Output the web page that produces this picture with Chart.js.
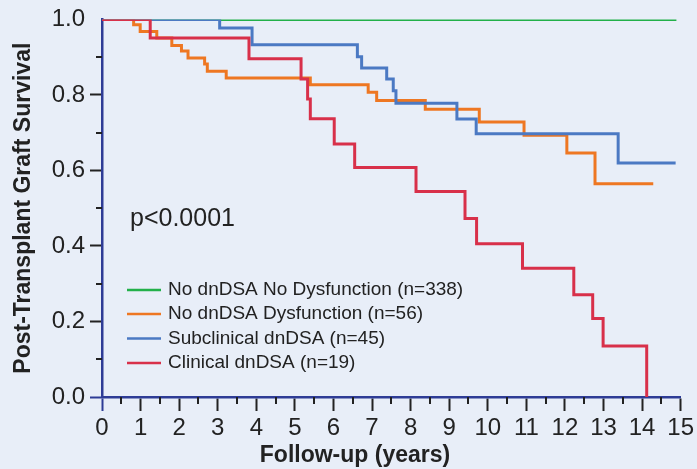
<!DOCTYPE html>
<html>
<head>
<meta charset="utf-8">
<script src="https://cdn.jsdelivr.net/npm/chart.js@4"></script>
<style>
  body { margin: 0; background: #e8eef8; }
  #wrap { width: 697px; height: 469px; }
</style>
</head>
<body>
<div id="wrap"><canvas id="kmChart" width="697" height="469"></canvas></div>
<script>
// Kaplan-Meier steps (time in years, survival after the drop)
const greenTimes = [0, 14.89];
const greenSurv = [1, 1];

const orangeTimes = [0, 0.82, 0.99, 1.42, 1.81, 2.06, 2.23, 2.66, 2.73, 3.22, 5.40, 6.90, 7.12, 8.38, 9.78, 10.94, 12.05, 12.78, 14.29];
const orangeSurv = [1, 0.986, 0.968, 0.951, 0.931, 0.916, 0.898, 0.882, 0.863, 0.845, 0.827, 0.807, 0.785, 0.762, 0.728, 0.693, 0.646, 0.565, 0.565];

const blueTimes = [0, 3.05, 3.89, 6.62, 6.73, 7.38, 7.55, 7.62, 9.20, 9.70, 13.38, 14.87];
const blueSurv = [1, 0.977, 0.933, 0.901, 0.871, 0.842, 0.811, 0.778, 0.736, 0.697, 0.620, 0.620];

const redTimes = [0, 1.25, 3.81, 5.16, 5.33, 5.40, 6.02, 6.55, 8.14, 9.41, 9.71, 10.90, 12.23, 12.72, 12.99, 14.12];
const redSurv = [1, 0.951, 0.896, 0.842, 0.789, 0.737, 0.670, 0.608, 0.544, 0.473, 0.406, 0.341, 0.271, 0.208, 0.135, 0];

const groupNames = [
  "No dnDSA No Dysfunction (n=338)",
  "No dnDSA Dysfunction (n=56)",
  "Subclinical dnDSA (n=45)",
  "Clinical dnDSA (n=19)",
];
const groupColors = ["#22b04a", "#ee7722", "#4b79c3", "#d8304a"];

const xTicks = [0, 15, 1];   // min, max, step
const yTicks = [0, 1, 0.2];
const pValueText = "p<0.0001";

const axisBlue = "#2e3c96";
const textColor = "#222222";
const fontFamily = "'Liberation Sans', Arial, Helvetica, sans-serif";

function toPoints(times, surv) {
  return times.map((t, i) => ({ x: t, y: surv[i] }));
}

// extra drawing: background, minor ticks, legend, p value, x title
const decorations = {
  id: "decorations",
  beforeDraw(chart) {
    const ctx = chart.ctx;
    ctx.save();
    ctx.fillStyle = "#e8eef8";
    ctx.fillRect(0, 0, chart.width, chart.height);
    ctx.restore();
  },
  afterDraw(chart) {
    const ctx = chart.ctx;
    const xs = chart.scales.x;
    const ys = chart.scales.y;
    const area = chart.chartArea;
    ctx.save();

    // minor ticks
    ctx.strokeStyle = textColor;
    ctx.lineWidth = 2;
    for (let v = 0.5; v < 15; v += 1) {
      const px = Math.round(xs.getPixelForValue(v));
      ctx.beginPath();
      ctx.moveTo(px, area.bottom);
      ctx.lineTo(px, area.bottom + 7);
      ctx.stroke();
    }
    for (let v = 0.1; v < 1; v += 0.2) {
      const py = Math.round(ys.getPixelForValue(v));
      ctx.beginPath();
      ctx.moveTo(area.left, py);
      ctx.lineTo(area.left - 6, py);
      ctx.stroke();
    }

    // legend
    ctx.font = "19px " + fontFamily;
    ctx.textBaseline = "middle";
    ctx.textAlign = "left";
    const legendY = [290, 314, 338.5, 363];
    groupNames.forEach((name, i) => {
      ctx.strokeStyle = groupColors[i];
      ctx.lineWidth = 2.5;
      ctx.beginPath();
      ctx.moveTo(127, legendY[i]);
      ctx.lineTo(161, legendY[i]);
      ctx.stroke();
      ctx.fillStyle = textColor;
      ctx.fillText(name, 168, legendY[i]);
    });

    // p value
    ctx.font = "25px " + fontFamily;
    ctx.textBaseline = "alphabetic";
    ctx.fillText(pValueText, 130, 226);

    // x axis title
    ctx.font = "bold 23px " + fontFamily;
    ctx.textAlign = "center";
    ctx.textBaseline = "middle";
    ctx.fillText("Follow-up (years)", 355, 456);

    ctx.restore();
  },
};

const ctx = document.getElementById("kmChart").getContext("2d");
new Chart(ctx, {
  type: "line",
  data: {
    datasets: [
      { label: groupNames[0], data: toPoints(greenTimes, greenSurv), borderColor: groupColors[0], order: 3 },
      { label: groupNames[1], data: toPoints(orangeTimes, orangeSurv), borderColor: groupColors[1], order: 2 },
      { label: groupNames[2], data: toPoints(blueTimes, blueSurv), borderColor: groupColors[2], order: 1 },
      { label: groupNames[3], data: toPoints(redTimes, redSurv), borderColor: groupColors[3], order: 0 },
    ],
  },
  options: {
    responsive: false,
    animation: false,
    devicePixelRatio: 1,
    layout: { padding: { top: 19, right: 13, left: 0, bottom: 0 } },
    elements: {
      line: { stepped: "before", borderWidth: 3, fill: false, tension: 0 },
      point: { radius: 0, hoverRadius: 0 },
    },
    plugins: {
      legend: { display: false },
      tooltip: { enabled: false },
    },
    scales: {
      x: {
        type: "linear",
        min: xTicks[0],
        max: xTicks[1],
        afterFit: (scale) => { scale.height = 72; },
        ticks: {
          stepSize: xTicks[2],
          color: textColor,
          padding: 3,
          maxRotation: 0,
          autoSkip: false,
          font: { family: fontFamily, size: 24 },
        },
        grid: {
          drawOnChartArea: false,
          drawTicks: true,
          tickLength: 14,
          tickWidth: 2,
          tickColor: (c) => (c.tick && c.tick.value === 0 ? axisBlue : textColor),
        },
        border: { color: axisBlue, width: 2.5 },
        title: { display: false },
      },
      y: {
        min: yTicks[0],
        max: yTicks[1],
        afterFit: (scale) => { scale.width = 102; },
        ticks: {
          stepSize: yTicks[2],
          color: textColor,
          padding: 5,
          font: { family: fontFamily, size: 24 },
          callback: (v) => v.toFixed(1),
        },
        grid: {
          drawOnChartArea: false,
          drawTicks: true,
          tickLength: 12,
          tickWidth: 2,
          tickColor: (c) => {
            if (!c.tick) return textColor;
            if (c.tick.value === 0) return axisBlue;
            if (c.tick.value === 1) return "rgba(0,0,0,0)";
            return textColor;
          },
        },
        border: { color: axisBlue, width: 2.5 },
        title: {
          display: true,
          text: "Post-Transplant Graft Survival",
          color: textColor,
          padding: { top: 10, bottom: 0 },
          font: { family: fontFamily, size: 23, weight: "bold" },
        },
      },
    },
  },
  plugins: [decorations],
});
</script>
</body>
</html>
